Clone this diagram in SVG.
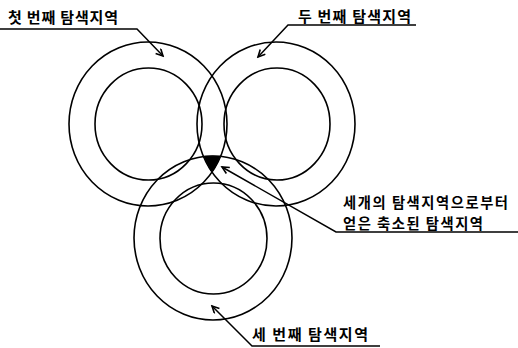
<svg xmlns="http://www.w3.org/2000/svg" width="518" height="348" viewBox="0 0 518 348">
<defs>
<style>
.ring{fill:none;stroke:#000;stroke-width:1.6}
.lead{fill:none;stroke:#000;stroke-width:1.5}
.lbl{font-family:"Noto Sans CJK KR","Noto Sans",sans-serif;font-size:15px;font-weight:bold;fill:#000}
.sm{font-size:14.3px}
</style>
<marker id="arr" markerWidth="10" markerHeight="10" refX="8" refY="4" orient="auto" markerUnits="userSpaceOnUse">
<path d="M1,0.5 L8,4 L1,7.5" fill="none" stroke="#000" stroke-width="1.6"/>
</marker>
</defs>
<rect width="518" height="348" fill="#fff"/>
<g id="region1">
<ellipse class="ring" cx="148" cy="124" rx="79" ry="82"/>
<ellipse class="ring" cx="148.5" cy="124" rx="53.5" ry="56"/>
</g>
<g id="region2">
<ellipse class="ring" cx="276" cy="124" rx="79" ry="82"/>
<ellipse class="ring" cx="277" cy="124" rx="53" ry="56"/>
</g>
<g id="region3">
<ellipse class="ring" cx="213" cy="238" rx="79" ry="82"/>
<ellipse class="ring" cx="213.5" cy="238.5" rx="53.5" ry="55.5"/>
</g>
<g id="reduced">
<path d="M203.7,156.6 A79,82 0 0 1 220.3,156.6 A79,82 0 0 1 212,172 A79,82 0 0 1 203.7,156.6 Z" fill="#000" stroke="#000" stroke-width="1"/>
</g>
<g id="connectors">
<polyline class="lead" points="0,29 137,29 163,56" marker-end="url(#arr)"/>
<polyline class="lead" points="416,25 288,25 258,57" marker-end="url(#arr)"/>
<polyline class="lead" points="518,232 336,232 222,167" marker-end="url(#arr)"/>
<polyline class="lead" points="380,346 252,346 212,306" marker-end="url(#arr)"/>
</g>
<g id="label1"><text class="lbl" x="8" y="22.5" textLength="110" lengthAdjust="spacing">첫 번째 탐색지역</text></g>
<g id="label2"><text class="lbl" x="298" y="21.5" textLength="113" lengthAdjust="spacing">두 번째 탐색지역</text></g>
<g id="label4">
<text class="lbl sm" x="343" y="207.5" textLength="165" lengthAdjust="spacing">세개의 탐색지역으로부터</text>
<text class="lbl sm" x="343" y="228.5" textLength="140" lengthAdjust="spacing">얻은 축소된 탐색지역</text>
</g>
<g id="label3"><text class="lbl" x="252" y="339.5" textLength="116" lengthAdjust="spacing">세 번째 탐색지역</text></g>
</svg>
